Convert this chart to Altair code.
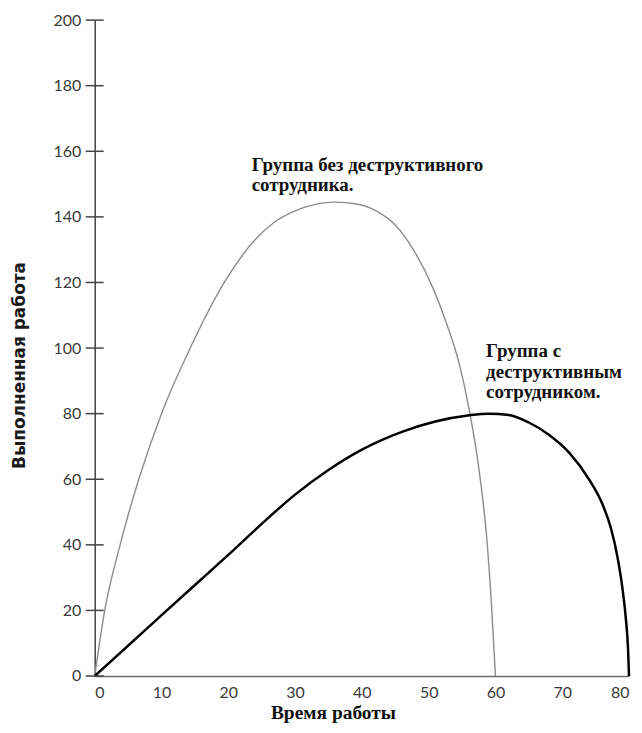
import altair as alt
import pandas as pd

# Gray curve: group without the destructive employee
gray_x = [0, 1.5, 3.8, 6.6, 10.0, 14.3, 19.4, 24.0, 27.0, 30.0, 33.0, 36.0, 39.0, 42.0, 45.0, 48.0, 50.6, 52.5, 54.6, 56.0, 57.6, 58.7, 59.4, 60]
gray_y = [0, 20, 40, 60, 80, 100, 120, 133, 138.5, 141.8, 143.8, 144.5, 144, 142, 137.5, 129, 118.5, 108.5, 95, 82, 62, 42, 22, 0]

# Black curve: group with the destructive employee
black_x = [0, 5.4, 10.8, 15.8, 20.9, 25.7, 30, 35, 40, 46.2, 51.0, 56.1, 59.0, 62.0, 65.0, 68.0, 71.0, 74.0, 76.0, 77.3, 78.3, 79.0, 79.5, 79.85, 80]
black_y = [0, 10, 20, 29.2, 38.6, 47.7, 55.3, 62.8, 69, 74.6, 77.6, 79.5, 80, 79.6, 77.3, 73.6, 68.2, 60, 52.5, 45, 36, 27, 18, 8.5, 0]

y_ticks = [0, 20, 40, 60, 80, 100, 120, 140, 160, 180, 200]
x_ticks = [0, 10, 20, 30, 40, 50, 60, 70, 80]

ann_text = [["Группа без деструктивного", "сотрудника."],
            ["Группа с", "деструктивным", "сотрудником."]]
ann_x = [23.5, 58.6]
ann_y = [155.8, 99.0]

gray_df = pd.DataFrame({"x": gray_x, "y": gray_y})
black_df = pd.DataFrame({"x": black_x, "y": black_y})
tick_df = pd.DataFrame({"y": y_ticks})
ann_df = pd.DataFrame({"x": ann_x, "y": ann_y, "t": ann_text})

W, H = 536, 658

xscale = alt.Scale(domain=[0, 80], nice=False, zero=True)
yscale = alt.Scale(domain=[0, 200], nice=False, zero=True)

xaxis = alt.Axis(values=x_ticks, ticks=False, grid=False, labelPadding=9,
                 domainColor="#6a6a6a", domainWidth=1.5,
                 labelFont="Lato", labelFontSize=16, labelColor="#3a3a3a",
                 title="Время работы", titleFont="Liberation Serif", titleFontSize=19.5,
                 titleFontWeight="bold", titleColor="#111111",
                 titleX=239, titleY=37, titleBaseline="middle", titleAlign="center")
yaxis = alt.Axis(values=y_ticks, ticks=False, grid=False, labelPadding=14,
                 domainColor="#444444", domainWidth=1.5,
                 labelFont="Lato", labelFontSize=16, labelColor="#3a3a3a",
                 title="Выполненная работа", titleFont="DejaVu Sans", titleFontSize=17,
                 titleFontWeight="bold", titleColor="#1a1a1a",
                 titleX=-75, titleY=346, titleBaseline="middle", titleAlign="center", titleAngle=-90)

gray = alt.Chart(gray_df).mark_line(color="#8c8c8c", strokeWidth=1.4, interpolate="monotone").encode(
    x=alt.X("x:Q", scale=xscale, axis=xaxis),
    y=alt.Y("y:Q", scale=yscale, axis=yaxis),
)
black = alt.Chart(black_df).mark_line(color="#000000", strokeWidth=2.5, interpolate="monotone").encode(
    x=alt.X("x:Q", scale=xscale),
    y=alt.Y("y:Q", scale=yscale),
)
ticks = alt.Chart(tick_df).mark_rule(color="#444444", strokeWidth=1.5).encode(
    y=alt.Y("y:Q", scale=yscale),
    x=alt.value(-9), x2=alt.value(9),
)
ann = alt.Chart(ann_df).mark_text(font="Liberation Serif", fontSize=19, fontWeight="bold",
                                  align="left", baseline="middle", lineHeight=20.5,
                                  color="#111111").encode(
    x=alt.X("x:Q", scale=xscale),
    y=alt.Y("y:Q", scale=yscale),
    text="t",
)

chart = alt.layer(gray, black, ticks, ann).properties(
    width=W, height=H, padding={"left": 3, "top": 3, "right": 0, "bottom": 0}
).configure_view(stroke=None)

chart.save("out.html", embed_options={"renderer": "svg", "actions": False})
